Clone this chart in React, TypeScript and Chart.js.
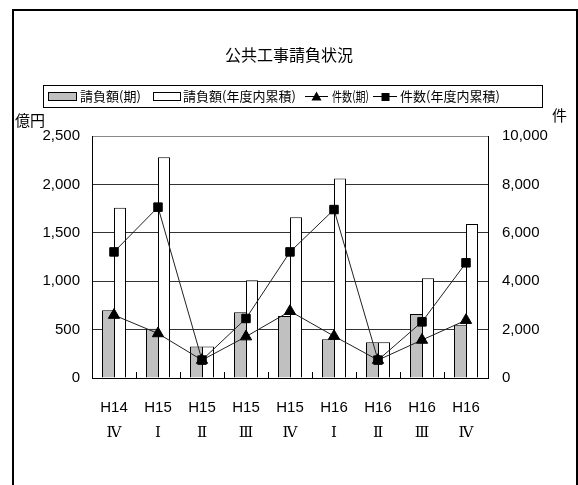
import React, { useEffect, useRef } from 'react';
import { Chart, registerables } from 'chart.js';

Chart.register(...registerables);

// Quarters (fiscal year / quarter)
const categories: string[][] = [
  ['H14', 'Ⅳ'],
  ['H15', 'Ⅰ'],
  ['H15', 'Ⅱ'],
  ['H15', 'Ⅲ'],
  ['H15', 'Ⅳ'],
  ['H16', 'Ⅰ'],
  ['H16', 'Ⅱ'],
  ['H16', 'Ⅲ'],
  ['H16', 'Ⅳ'],
];

// 請負額 (億円)
const amountPeriod = [700, 510, 325, 680, 640, 400, 370, 660, 550];
const amountCumulative = [1760, 2280, 325, 1010, 1660, 2060, 370, 1030, 1590];

// 件数 (件)
const countPeriod = [2600, 1840, 740, 1710, 2760, 1730, 740, 1570, 2390];
const countCumulative = [5210, 7060, 740, 2460, 5210, 6960, 740, 2320, 4760];

// Axis ranges
const amountMax = 2500;
const amountStep = 500;
const countMax = 10000;
const countStep = 2000;

const titleText = '公共工事請負状況';
const legendLabels = ['請負額(期)', '請負額(年度内累積)', '件数(期)', '件数(年度内累積)'];
const leftUnit = '億円';
const rightUnit = '件';

const JP = '"Noto Sans CJK JP", "Noto Sans", sans-serif';
const NUM = '"Liberation Sans", "DejaVu Serif", sans-serif';

const W = 578;
const H = 485;

const fmt = (v: number) => v.toLocaleString('en-US');

const decorPlugin = {
  id: 'decor',
  beforeDraw(chart: any) {
    const ctx = chart.ctx;
    ctx.save();
    ctx.fillStyle = '#ffffff';
    ctx.fillRect(0, 0, W, H);
    ctx.restore();
  },
  afterDraw(chart: any) {
    const ctx = chart.ctx;
    const xs = chart.scales.x;
    const area = chart.chartArea;
    ctx.save();

    // outer frame
    ctx.strokeStyle = '#000';
    ctx.lineWidth = 2;
    ctx.strokeRect(13, 10, 564, 520);

    // title
    ctx.fillStyle = '#000';
    ctx.font = `16px ${JP}`;
    ctx.textAlign = 'center';
    ctx.textBaseline = 'middle';
    ctx.fillText(titleText, 289, 55);

    // unit labels
    ctx.font = `15px ${JP}`;
    ctx.textAlign = 'left';
    ctx.fillText(leftUnit, 15, 120);
    ctx.fillText(rightUnit, 552, 115);

    // legend box
    ctx.lineWidth = 1;
    ctx.strokeRect(43.5, 85.5, 499, 22);
    const cy = 96.5;
    ctx.font = `13px ${JP}`;
    ctx.textBaseline = 'middle';

    ctx.fillStyle = '#c0c0c0';
    ctx.fillRect(48, 92, 29, 9);
    ctx.strokeRect(48.5, 92.5, 28, 8);
    ctx.fillStyle = '#000';
    ctx.fillText(legendLabels[0], 80, cy, 68);

    ctx.fillStyle = '#fff';
    ctx.fillRect(153, 92, 28, 9);
    ctx.strokeRect(153.5, 92.5, 27, 8);
    ctx.fillStyle = '#000';
    ctx.fillText(legendLabels[1], 183, cy, 117);

    ctx.beginPath();
    ctx.moveTo(305, cy);
    ctx.lineTo(328, cy);
    ctx.stroke();
    ctx.beginPath();
    ctx.moveTo(316.5, 91.5);
    ctx.lineTo(321.5, 100.5);
    ctx.lineTo(311.5, 100.5);
    ctx.closePath();
    ctx.fill();
    ctx.fillText(legendLabels[2], 332, cy, 37);

    ctx.beginPath();
    ctx.moveTo(373, cy);
    ctx.lineTo(397, cy);
    ctx.stroke();
    ctx.fillRect(381.5, 93, 8, 8);
    ctx.fillText(legendLabels[3], 400, cy, 138);

    // small inner ticks between categories
    ctx.strokeStyle = '#000';
    ctx.lineWidth = 1;
    for (let i = 1; i < categories.length; i++) {
      const x = Math.round((xs.getPixelForValue(i - 1) + xs.getPixelForValue(i)) / 2) + 0.5;
      ctx.beginPath();
      ctx.moveTo(x, area.bottom);
      ctx.lineTo(x, area.bottom - 6);
      ctx.stroke();
    }
    ctx.restore();
  },
};

export default function App() {
  const ref = useRef<HTMLCanvasElement | null>(null);

  useEffect(() => {
    if (!ref.current) return;
    const chart = new Chart(ref.current, {
      type: 'bar',
      data: {
        labels: categories,
        datasets: [
          {
            type: 'line',
            label: legendLabels[3],
            data: countCumulative,
            yAxisID: 'y1',
            borderColor: '#222',
            borderWidth: 1,
            pointStyle: 'rect',
            pointRadius: 6,
            pointBackgroundColor: '#000',
            pointBorderColor: '#000',
            pointBorderWidth: 1,
            order: 0,
          },
          {
            type: 'line',
            label: legendLabels[2],
            data: countPeriod,
            yAxisID: 'y1',
            borderColor: '#222',
            borderWidth: 1,
            pointStyle: 'triangle',
            pointRadius: 6.5,
            pointBackgroundColor: '#000',
            pointBorderColor: '#000',
            pointBorderWidth: 1,
            order: 1,
          },
          {
            type: 'bar',
            label: legendLabels[0],
            data: amountPeriod,
            yAxisID: 'y',
            backgroundColor: '#c0c0c0',
            borderColor: '#000',
            borderWidth: { top: 1, left: 1, right: 0, bottom: 0 },
            borderSkipped: false,
            order: 2,
          },
          {
            type: 'bar',
            label: legendLabels[1],
            data: amountCumulative,
            yAxisID: 'y',
            backgroundColor: '#ffffff',
            borderColor: '#000',
            borderWidth: { top: 1, left: 1, right: 1, bottom: 0 },
            borderSkipped: false,
            order: 2,
          },
        ],
      } as any,
      options: {
        responsive: false,
        animation: false,
        devicePixelRatio: 1,
        layout: { padding: { top: 136, left: 0, right: 0, bottom: 0 } },
        datasets: {
          bar: { categoryPercentage: 24 / 44, barPercentage: 1 },
        },
        plugins: {
          legend: { display: false },
          title: { display: false },
          tooltip: { enabled: false },
        },
        scales: {
          x: {
            grid: { display: false, drawTicks: false },
            border: { display: true, color: '#000', width: 1 },
            ticks: {
              color: '#000',
              font: { family: NUM, size: 15, lineHeight: '25px' as any },
              padding: 17,
              maxRotation: 0,
              autoSkip: false,
            },
            afterFit: (s: any) => {
              s.height = 107;
            },
          },
          y: {
            position: 'left',
            min: 0,
            max: amountMax,
            grid: {
              drawTicks: false,
              color: (c: any) => (c.tick && c.tick.value === amountMax ? '#888' : c.tick && c.tick.value === 0 ? '#000' : '#333'),
              lineWidth: 1,
            },
            border: { display: true, color: '#000', width: 1 },
            ticks: {
              stepSize: amountStep,
              color: '#000',
              padding: 12,
              font: { family: NUM, size: 15 },
              callback: (v: any) => fmt(Number(v)),
            },
            afterFit: (s: any) => {
              s.width = 92;
            },
          },
          y1: {
            position: 'right',
            min: 0,
            max: countMax,
            grid: { display: false, drawTicks: false },
            border: { display: true, color: '#000', width: 1 },
            ticks: {
              stepSize: countStep,
              color: '#000',
              padding: 14,
              font: { family: NUM, size: 15 },
              callback: (v: any) => fmt(Number(v)),
            },
            afterFit: (s: any) => {
              s.width = W - 488;
            },
          },
        },
      } as any,
      plugins: [decorPlugin],
    });
    return () => chart.destroy();
  }, []);

  return (
    <div style={{ position: 'fixed', left: 0, top: 0, width: W, height: H, background: '#fff' }}>
      <canvas ref={ref} width={W} height={H} style={{ width: W, height: H, display: 'block' }} />
    </div>
  );
}
